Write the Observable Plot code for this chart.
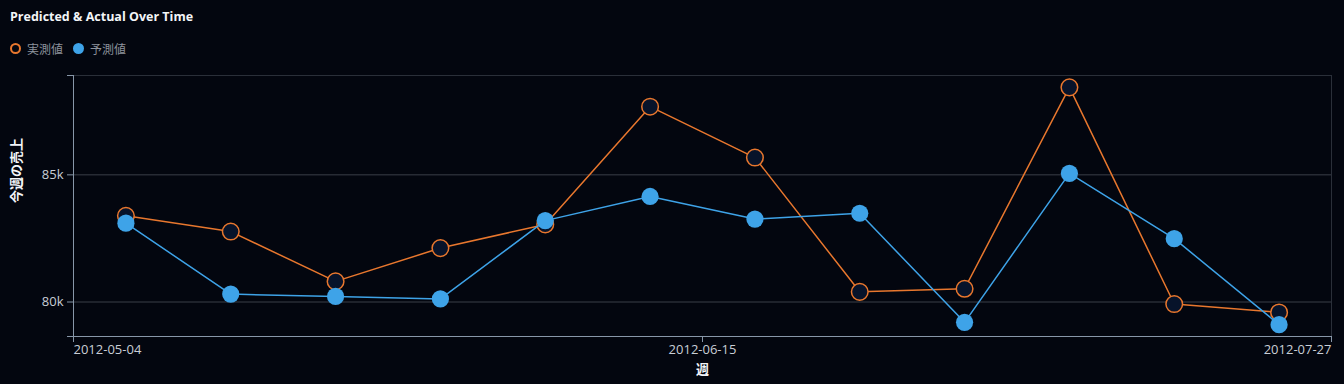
<!DOCTYPE html>
<html>
<head>
<meta charset="utf-8">
<script src="https://cdn.jsdelivr.net/npm/d3@7"></script>
<script src="https://cdn.jsdelivr.net/npm/@observablehq/plot@0.6"></script>
<style>
  html, body { margin: 0; padding: 0; background: #03060f; width: 1344px; height: 384px; overflow: hidden; }
  body { position: relative; font-family: "Open Sans", "Noto Sans CJK JP", sans-serif; }
  #title { position: absolute; left: 10px; top: 8px; font-size: 12.5px; font-weight: 700; color: #f3f5f8; line-height: 18px; white-space: nowrap; }
  #legend { position: absolute; left: 10px; top: 39px; height: 18px; display: flex; align-items: center; font-size: 12px; color: #8d929c; font-family: "Noto Sans CJK JP", sans-serif; }
  .item { display: flex; align-items: center; margin-right: 10px; }
  .sw { width: 11px; height: 11px; border-radius: 50%; box-sizing: border-box; margin-right: 6px; }
  #chart { position: absolute; left: 0; top: 62px; }
</style>
</head>
<body>
<div id="title"></div>
<div id="legend"></div>
<div id="chart"></div>
<script>
// ---- data ----
const weeks = ["2012-05-04","2012-05-11","2012-05-18","2012-05-25","2012-06-01","2012-06-08",
               "2012-06-15","2012-06-22","2012-06-29","2012-07-06","2012-07-13","2012-07-20"];
const actual = [83390, 82770, 80810, 82120, 83050, 87680, 85680, 80400, 80520, 88440, 79920, 79590];
const predicted = [83100, 80310, 80220, 80120, 83200, 84150, 83260, 83490, 79200, 85060, 82490, 79110];
const seriesNames = ["実測値", "予測値"];
const seriesColors = ["#e8772e", "#3ea3e8"];
const xTickLabels = ["2012-05-04", "2012-06-15", "2012-07-27"];
const yTickValues = [80000, 85000];
const titleText = "Predicted & Actual Over Time";
const xLabel = "週";
const yLabel = "今週の売上";

// ---- build ----
const parse = d3.utcParse("%Y-%m-%d");
const rows = weeks.map((w, i) => ({week: parse(w), actual: actual[i], predicted: predicted[i]}));
const mid = d => d3.utcHour.offset(d.week, 84); // middle of the week
const xTicks = xTickLabels.map(parse);
const all = actual.concat(predicted);
const [lo, hi] = d3.extent(all);
const pad = (hi - lo) * 0.05;
const yDomain = [lo - pad, hi + pad];

document.getElementById("title").textContent = titleText;
const legend = document.getElementById("legend");
seriesNames.forEach((n, i) => {
  const it = document.createElement("div"); it.className = "item";
  const sw = document.createElement("div"); sw.className = "sw";
  if (i === 0) { sw.style.border = `2px solid ${seriesColors[0]}`; }
  else { sw.style.background = seriesColors[1]; }
  const t = document.createElement("span"); t.textContent = n;
  it.appendChild(sw); it.appendChild(t); legend.appendChild(it);
});

const axisStroke = "#8796a8";
const tickText = "#c9ced6";
const fmt = d => `${d / 1000}k`;
const dateFmt = d3.utcFormat("%Y-%m-%d");

const chart = Plot.plot({
  width: 1344,
  height: 322,
  marginTop: 13,
  marginBottom: 48,
  marginLeft: 73,
  marginRight: 13,
  style: {background: "transparent", color: tickText, fontFamily: "'Open Sans', 'Noto Sans CJK JP', sans-serif", fontSize: "13px", overflow: "visible"},
  x: {type: "utc", domain: [xTicks[0], xTicks[xTicks.length - 1]]},
  y: {domain: yDomain},
  marks: [
    Plot.frame({stroke: "#2a2f39"}),
    Plot.gridY(yTickValues, {stroke: "#3a3f49", strokeOpacity: 1}),
    Plot.ruleX([xTicks[0]], {stroke: axisStroke}),
    Plot.ruleY([yDomain[0]], {stroke: axisStroke}),
    Plot.axisY([yDomain[0], ...yTickValues, yDomain[1]], {
      tickFormat: d => yTickValues.includes(d) ? fmt(d) : "",
      tickSize: 6, tickPadding: 4, stroke: axisStroke, fill: tickText, label: null
    }),
    Plot.axisX([xTicks[0]], {tickFormat: dateFmt, tickSize: 6, tickPadding: 2, textAnchor: "start", stroke: axisStroke, fill: tickText, label: null}),
    Plot.axisX([xTicks[1]], {tickFormat: dateFmt, tickSize: 6, tickPadding: 2, stroke: axisStroke, fill: tickText, label: null}),
    Plot.axisX([xTicks[2]], {tickFormat: dateFmt, tickSize: 6, tickPadding: 2, textAnchor: "end", stroke: axisStroke, fill: tickText, label: null}),
    Plot.text([yLabel], {frameAnchor: "left", rotate: -90, dx: -57, dy: -3, fill: "#f3f5f8", fontWeight: "bold", fontSize: 13, fontFamily: "'Noto Sans CJK JP', sans-serif"}),
    Plot.text([xLabel], {frameAnchor: "bottom", dy: 37, fill: "#f3f5f8", fontWeight: "bold", fontSize: 13, fontFamily: "'Noto Sans CJK JP', sans-serif"}),
    Plot.lineY(rows, {x: mid, y: "actual", stroke: seriesColors[0], strokeWidth: 1.5}),
    Plot.dot(rows, {x: mid, y: "actual", r: 8.3, fill: "#07132a", stroke: seriesColors[0], strokeWidth: 1.5}),
    Plot.lineY(rows, {x: mid, y: "predicted", stroke: seriesColors[1], strokeWidth: 1.5}),
    Plot.dot(rows, {x: mid, y: "predicted", r: 8.6, fill: seriesColors[1], stroke: "none"})
  ]
});
document.getElementById("chart").appendChild(chart);
</script>
</body>
</html>
